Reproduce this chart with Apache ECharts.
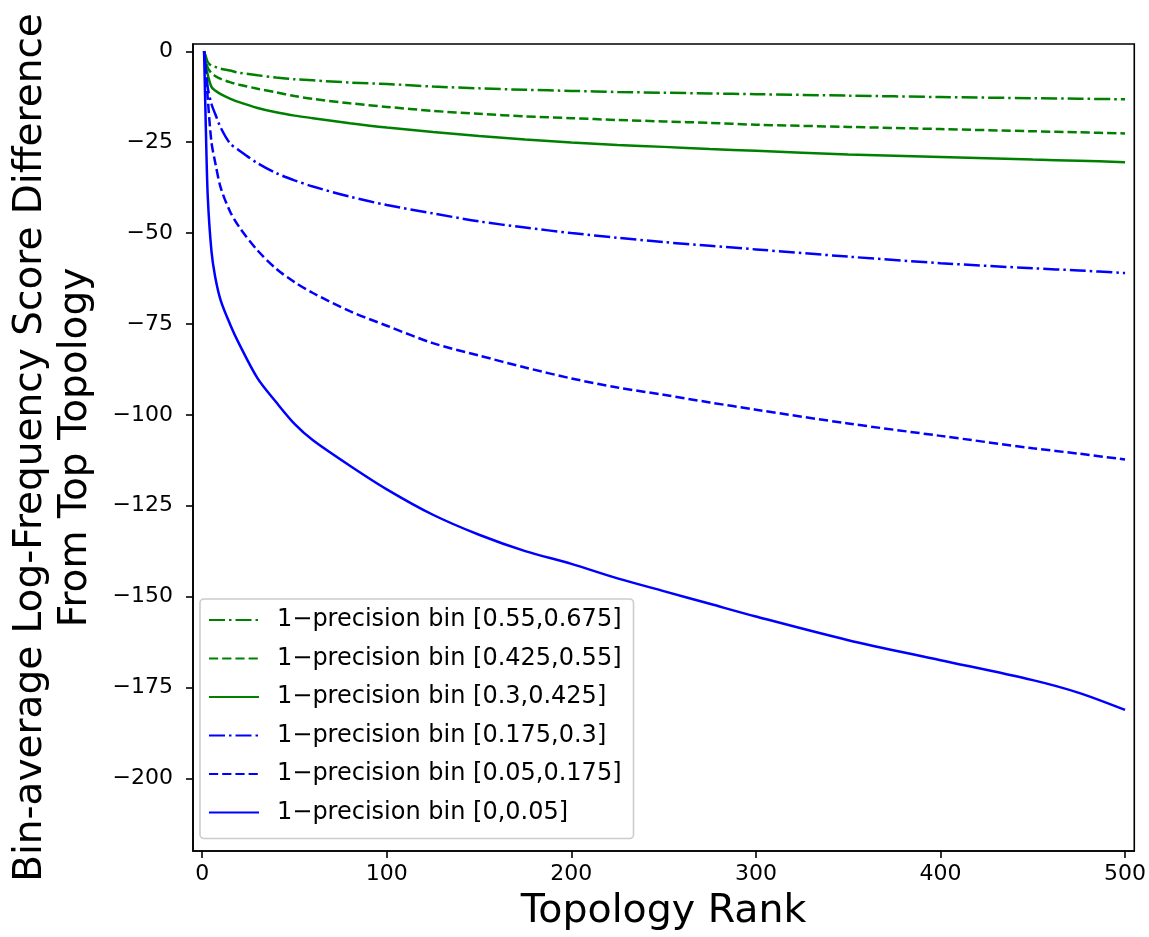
<!DOCTYPE html>
<html>
<head>
<meta charset="utf-8">
<script src="https://cdn.jsdelivr.net/npm/echarts@6/dist/echarts.min.js"></script>
<style>
  html, body { margin: 0; padding: 0; background: #fff; }
  #chart { width: 1149px; height: 937px; }
</style>
</head>
<body>
<div id="chart"></div>
<script>
// 拓扑排名 (x)
const ranks = [1, 2, 3, 5, 7, 10, 15, 20, 30, 40, 50, 60, 80, 100, 125, 150, 175, 200, 225, 250, 275, 300, 350, 400, 450, 475, 500];

// 各 bin 的平均得分差
const bin055 = [0, -1.5, -3, -4, -4.3, -4.8, -5.3, -5.9, -6.6, -7.2, -7.7, -8, -8.6, -9, -9.7, -10.2, -10.6, -10.9, -11.2, -11.4, -11.6, -11.8, -12.2, -12.6, -12.9, -13.05, -13.2];
const bin0425 = [0, -2.5, -4.5, -6, -6.8, -7.6, -8.5, -9.2, -10.3, -11.3, -12.3, -13.1, -14.3, -15.3, -16.4, -17.2, -17.9, -18.4, -18.9, -19.3, -19.7, -20.2, -20.8, -21.4, -22, -22.3, -22.6];
const bin03 = [0, -4, -6.5, -9.8, -10.8, -11.8, -13, -14, -15.6, -16.8, -17.7, -18.4, -19.8, -21, -22.2, -23.3, -24.3, -25.1, -25.8, -26.3, -26.9, -27.4, -28.4, -29.1, -29.8, -30.1, -30.5];
const bin0175 = [0, -5, -10, -14.5, -17.2, -21, -25.3, -27.3, -30.8, -33.5, -35.5, -37.2, -40, -42.3, -44.6, -46.8, -48.5, -50, -51.3, -52.5, -53.5, -54.5, -56.5, -58.3, -59.7, -60.3, -61];
const bin005 = [0, -6, -13, -25, -30.5, -37.5, -44, -48.3, -54.8, -59.8, -63.5, -66.5, -71.5, -75.5, -80.3, -83.7, -87, -90, -92.5, -94.5, -96.6, -98.6, -102.4, -105.8, -109.2, -110.7, -112.3];
const bin0 = [0, -22, -40, -55, -62, -68.5, -75, -80.5, -90, -96.5, -102.5, -107, -114, -120.5, -127.5, -133, -137.5, -141, -145, -148.5, -152, -155.5, -162, -167.5, -173, -176.5, -181.2];

const xTicks = [0, 100, 200, 300, 400, 500];
const yTicks = [0, -25, -50, -75, -100, -125, -150, -175, -200];

const FONT = 'DejaVu Sans';
const GREEN = '#008000';
const BLUE = '#0000ff';
const DASH = [9.2, 4];
const DASHDOT = [16, 4, 2.5, 4];

const fmt = v => v < 0 ? '\u2212' + Math.abs(v) : String(v);

function mkSeries(name, vals, color, type) {
  return {
    name: name, type: 'line',
    data: ranks.map((r, i) => [r, vals[i]]),
    showSymbol: false, symbol: 'none', smooth: 0.3,
    lineStyle: { color: color, width: 2.5, type: type },
    itemStyle: { color: color },
    animation: false
  };
}

const chart = echarts.init(document.getElementById('chart'));
chart.setOption({
  backgroundColor: '#fff',
  animation: false,
  grid: {
    left: 188, right: 14, top: 44, bottom: 86,
    show: true, borderColor: '#000', borderWidth: 1.6, backgroundColor: 'transparent'
  },
  legend: {
    orient: 'vertical',
    left: 200, top: 599,
    padding: [8, 12, 13, 8],
    itemWidth: 50, itemHeight: 14, itemGap: 12.5,
    itemStyle: { opacity: 0 },
    backgroundColor: 'rgba(255,255,255,0.8)',
    borderColor: '#cccccc', borderWidth: 1.6, borderRadius: 4,
    textStyle: { fontFamily: FONT, fontSize: 24, color: '#000', lineHeight: 26, padding: [0, 0, 0, 13] },
    data: [
      '1\u2212precision bin [0.55,0.675]',
      '1\u2212precision bin [0.425,0.55]',
      '1\u2212precision bin [0.3,0.425]',
      '1\u2212precision bin [0.175,0.3]',
      '1\u2212precision bin [0.05,0.175]',
      '1\u2212precision bin [0,0.05]'
    ]
  },
  xAxis: {
    type: 'value', min: -5, max: 505,
    name: 'Topology Rank', nameLocation: 'middle', nameGap: 41,
    nameTextStyle: { fontFamily: FONT, fontSize: 39.5, color: '#000' },
    axisLine: { show: true, onZero: false, lineStyle: { color: '#000', width: 1.6 } },
    axisTick: { show: true, length: 7, lineStyle: { color: '#000', width: 1.6 }, customValues: xTicks },
    axisLabel: { fontFamily: FONT, fontSize: 22, color: '#000', margin: 12, customValues: xTicks, formatter: fmt },
    splitLine: { show: false }
  },
  yAxis: {
    type: 'value', min: -220, max: 2,
    name: 'Bin-average Log-Frequency Score Difference\nFrom Top Topology',
    nameLocation: 'middle', nameGap: 95, nameRotate: 90,
    nameTextStyle: { fontFamily: FONT, fontSize: 39, color: '#000', lineHeight: 45, align: 'center' },
    axisLine: { show: true, onZero: false, lineStyle: { color: '#000', width: 1.6 } },
    axisTick: { show: true, length: 7, lineStyle: { color: '#000', width: 1.6 }, customValues: yTicks },
    axisLabel: { fontFamily: FONT, fontSize: 22, color: '#000', margin: 20, customValues: yTicks, formatter: fmt },
    splitLine: { show: false }
  },
  series: [
    mkSeries('1\u2212precision bin [0.55,0.675]', bin055, GREEN, DASHDOT),
    mkSeries('1\u2212precision bin [0.425,0.55]', bin0425, GREEN, DASH),
    mkSeries('1\u2212precision bin [0.3,0.425]', bin03, GREEN, 'solid'),
    mkSeries('1\u2212precision bin [0.175,0.3]', bin0175, BLUE, DASHDOT),
    mkSeries('1\u2212precision bin [0.05,0.175]', bin005, BLUE, DASH),
    mkSeries('1\u2212precision bin [0,0.05]', bin0, BLUE, 'solid')
  ]
});
</script>
</body>
</html>
